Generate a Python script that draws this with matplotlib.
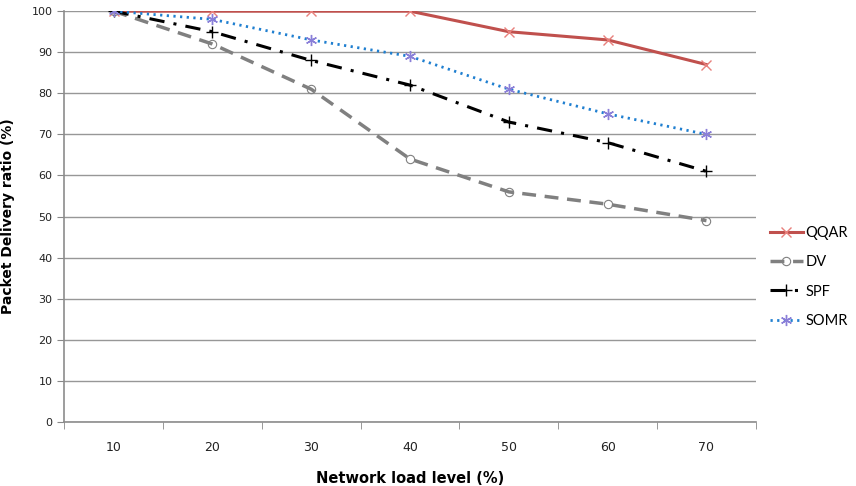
import numpy as np
import matplotlib.pyplot as plt

loads = ["10", "20", "30", "40", "50", "60", "70"]
qqar = [100, 100, 100, 100, 95, 93, 87]
dv = [100, 92, 81, 64, 56, 53, 49]
spf = [100, 95, 88, 82, 73, 68, 61]
somr = [100, 98, 93, 89, 81, 75, 70]

fig = plt.figure(figsize=(8.56, 4.86), dpi=100)
ax = fig.add_axes([0.075, 0.132, 0.808, 0.845])
x = np.arange(len(loads))

ax.plot(x, qqar, color="#C0504D", lw=2.2, marker="x", ms=7, mec="#E8807C", mew=1, label="QQAR")
ax.plot(x, dv, color="#808080", lw=2.5, ls=(0, (4, 2.5)), marker="o", ms=6, mfc="none",
        mec="#808080", mew=0.8, label="DV")
ax.plot(x, spf, color="black", lw=2.2, ls=(0, (5, 3, 1, 3)), marker="+", ms=8, mew=1, label="SPF")
ax.plot(x, somr, color="#1F7FD0", lw=2, ls=(0, (0.8, 1.6)), marker=(6, 2, 0), ms=8,
        mec="#8A7FD8", mew=1, label="SOMR")

ax.set_xlim(-0.5, len(loads) - 0.5)
ax.set_ylim(0, 100)
ax.set_yticks(range(0, 101, 10))
ax.set_xticks(x)
ax.set_xticklabels(loads)
ax.set_xticks(np.arange(-0.5, len(loads), 1), minor=True)
ax.tick_params(axis="x", which="major", length=0, pad=14, labelsize=9, colors="#222222")
ax.tick_params(axis="x", which="minor", length=5, color="#888888")
ax.tick_params(axis="y", length=5, color="#888888", labelsize=8, colors="#222222")
ax.grid(axis="y", color="#979797", lw=1)
ax.set_axisbelow(True)
for s in ["top", "right"]:
    ax.spines[s].set_visible(False)
for s in ["left", "bottom"]:
    ax.spines[s].set_color("#8C8C8C")
    ax.spines[s].set_linewidth(1.2)

ax.set_xlabel("Network load level (%)", fontweight="bold", fontsize=10.5, labelpad=12)
ax.set_ylabel("Packet Delivery ratio (%)", fontweight="bold", fontsize=10)
ax.yaxis.set_label_coords(-0.071, 0.5)

ax.legend(loc="center left", bbox_to_anchor=(1.0, 0.353), frameon=False,
          prop={"family": "Lato", "size": 10.5},
          handlelength=2.2, labelspacing=1.05, handletextpad=0.2, borderaxespad=1.0,
          borderpad=0)

fig.savefig("out.png", dpi=100)
